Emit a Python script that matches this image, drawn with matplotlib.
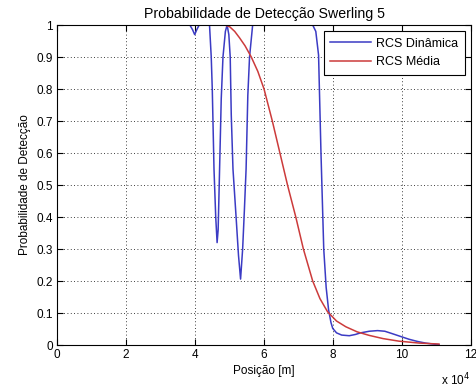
import matplotlib.pyplot as plt
from matplotlib.ticker import MultipleLocator, FuncFormatter

# posicao em unidades de 1e4 m
pos_dinamica = [3.00, 3.60, 3.85, 3.93, 3.99, 4.05, 4.12, 4.30, 4.42, 4.47, 4.50, 4.55,
                4.60, 4.64, 4.67, 4.69, 4.76, 4.81, 4.88, 4.93, 4.98, 5.02, 5.05, 5.10,
                5.19, 5.26, 5.32, 5.38, 5.43, 5.48, 5.53, 5.58, 5.67, 6.50, 7.41, 7.50,
                7.58, 7.65, 7.73, 7.80, 7.87, 7.94, 7.99, 8.10, 8.25, 8.47, 8.65, 8.80,
                9.05, 9.29, 9.50, 9.70, 9.95, 10.20, 10.45, 10.68, 10.90, 11.07]
pd_dinamica = [1.0, 1.0, 1.0, 0.985, 0.97, 0.985, 1.0, 1.0, 1.0, 0.90, 0.80, 0.55,
               0.40, 0.32, 0.36, 0.45, 0.77, 0.90, 0.98, 1.0, 0.97, 0.90, 0.72, 0.55,
               0.40, 0.28, 0.206, 0.30, 0.42, 0.55, 0.78, 0.90, 1.0, 1.0, 1.0, 0.98,
               0.906, 0.60, 0.30, 0.18, 0.11, 0.07, 0.052, 0.038, 0.031, 0.029, 0.033, 0.038,
               0.043, 0.045, 0.043, 0.036, 0.027, 0.018, 0.011, 0.006, 0.003, 0.001]

pos_media = [3.00, 4.00, 4.86, 5.00, 5.15, 5.29, 5.45, 5.63, 5.82, 6.00, 6.24, 6.46, 6.68,
             6.92, 7.14, 7.41, 7.62, 7.84, 8.10, 8.37, 8.70, 9.05, 9.45, 9.91, 10.50, 11.07]
pd_media = [1.0, 1.0, 1.0, 0.995, 0.98, 0.96, 0.935, 0.90, 0.855, 0.80, 0.70, 0.60, 0.50,
            0.40, 0.30, 0.20, 0.145, 0.104, 0.075, 0.057, 0.041, 0.030, 0.020, 0.012, 0.006, 0.003]

plt.rcParams['font.family'] = ['Liberation Sans', 'DejaVu Sans']
plt.rcParams['font.size'] = 8.5

fig = plt.figure(figsize=(4.76, 3.89), dpi=100)
ax = fig.add_axes([0.1197, 0.1131, 0.870, 0.8226])

ax.plot(pos_dinamica, pd_dinamica, color='#3b3bc4', lw=1.1, label='RCS Dinâmica')
ax.plot(pos_media, pd_media, color='#cc3b3b', lw=1.1, label='RCS Média')

ax.set_xlim(0, 12)
ax.set_ylim(0, 1)
ax.xaxis.set_major_locator(MultipleLocator(2))
ax.yaxis.set_major_locator(MultipleLocator(0.1))
ax.yaxis.set_major_formatter(FuncFormatter(lambda v, p: f'{v:g}'))
ax.xaxis.set_major_formatter(FuncFormatter(lambda v, p: f'{v:g}'))
ax.tick_params(direction='in', top=True, right=True, length=4, width=0.8, pad=3)
ax.grid(True, color='black', linestyle=(0, (1, 3)), linewidth=0.6)
for s in ax.spines.values():
    s.set_linewidth(0.8)

ax.set_title('Probabilidade de Detecção Swerling 5', pad=5)
ax.set_xlabel('Posição [m]', labelpad=3)
ax.set_ylabel('Probabilidade de Detecção', labelpad=4)
ax.text(0.928, -0.082, r'x 10$^{4}$', transform=ax.transAxes, ha='left', va='top')

leg = ax.legend(loc='upper right', fancybox=False, framealpha=1, edgecolor='black',
                fontsize=9, handlelength=3.3, borderpad=0.5, labelspacing=0.55,
                handletextpad=0.4, borderaxespad=0.5)
leg.get_frame().set_linewidth(0.8)

fig.savefig('out.png', dpi=100, facecolor='white')
